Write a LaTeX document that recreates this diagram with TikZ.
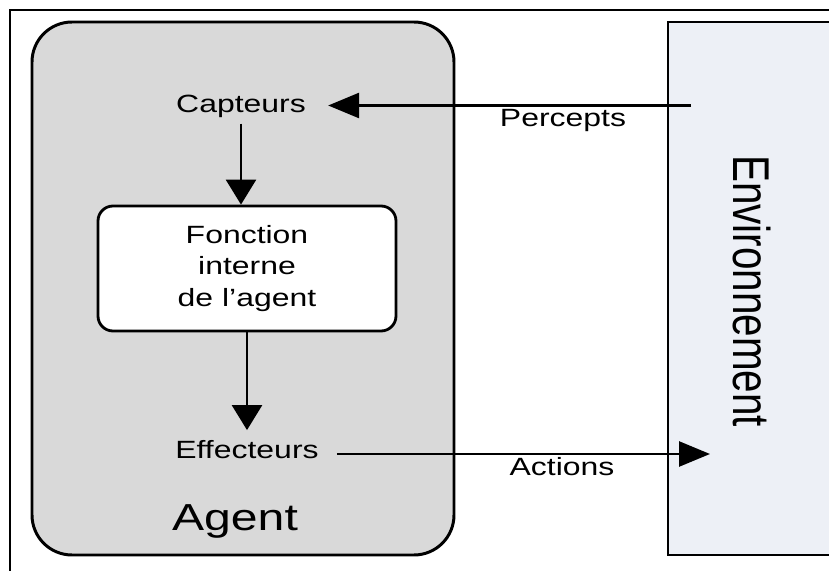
\documentclass[tikz,border=0pt]{standalone}
\usepackage{graphicx}
\usepackage{fontspec}
\setmainfont{Liberation Sans}
\usetikzlibrary{arrows.meta}
\definecolor{AgentGrey}{RGB}{217,217,217}
\definecolor{EnvBlue}{RGB}{237,240,246}
\newcommand{\hwide}[1]{\scalebox{1.28}[1]{#1}} % text is drawn wider than high
\newcommand{\vwide}[1]{\scalebox{1}[1.28]{#1}} % same, for the turned label

\begin{document}
\begin{tikzpicture}[x=0.2mm, y=-0.2mm,
  box/.style={draw=black, line width=1.6pt},
  lbl/.style={font=\fontsize{14.2}{18}\selectfont, inner sep=0pt},
  varrow/.style={line width=1.5pt, -{Triangle[length=5mm, width=6mm]}},
  harrow/.style={line width=1.5pt, -{Triangle[length=6.2mm, width=5mm]}}]
\pgfmathsetmacro{\yt}{22} % top of both boxes
\pgfmathsetmacro{\yb}{555} % bottom of both boxes

\clip (0,0) rectangle (829,571);
\fill[white] (0,0) rectangle (829,571); % page
\draw[line width=1.3pt] (10,10) rectangle (860,600); % frame

\filldraw[box, line width=1.7pt, fill=AgentGrey, rounded corners=8mm] (32,\yt) rectangle (454,\yb); % agent
\filldraw[box, line width=1.7pt, fill=EnvBlue] (668,\yt) rectangle (870,\yb); % environment

\node[font=\fontsize{23}{28}\selectfont, rotate=-90] (envlbl) at (752,291) {\vwide{Environnement}};
\node[font=\fontsize{21.4}{26}\selectfont, anchor=base] (agentlbl) at (235,530) {\hwide{Agent}};

\node[lbl, anchor=base, inner xsep=4.4mm, inner ysep=1mm] (capteurs) at (241,113) {\hwide{Capteurs}};
\node[box, fill=white, rounded corners=3mm, minimum width=59.6mm, minimum height=25mm, align=center, lbl] (fonction) at (247,268.5)
  {\hwide{Fonction}\\\hwide{interne}\\\hwide{de l’agent}};
\node[lbl, anchor=base, inner xsep=3.6mm, inner ysep=1.9mm] (effecteurs) at (247,458) {\hwide{Effecteurs}};

\node[lbl, anchor=base] (percepts) at (563,127) {\hwide{Percepts}};
\node[lbl, anchor=base] (actions) at (562,475) {\hwide{Actions}};

\coordinate (percin) at (691,105.5);
\coordinate (actout) at (710,454);

\draw[varrow] (capteurs.south) -- (capteurs.south |- fonction.north);
\draw[varrow] (fonction.south) -- (effecteurs.north);
\draw[harrow] (percin) -- (capteurs.east |- percin);
\draw[harrow] (effecteurs.east |- actout) -- (actout);

\end{tikzpicture}
\end{document}
